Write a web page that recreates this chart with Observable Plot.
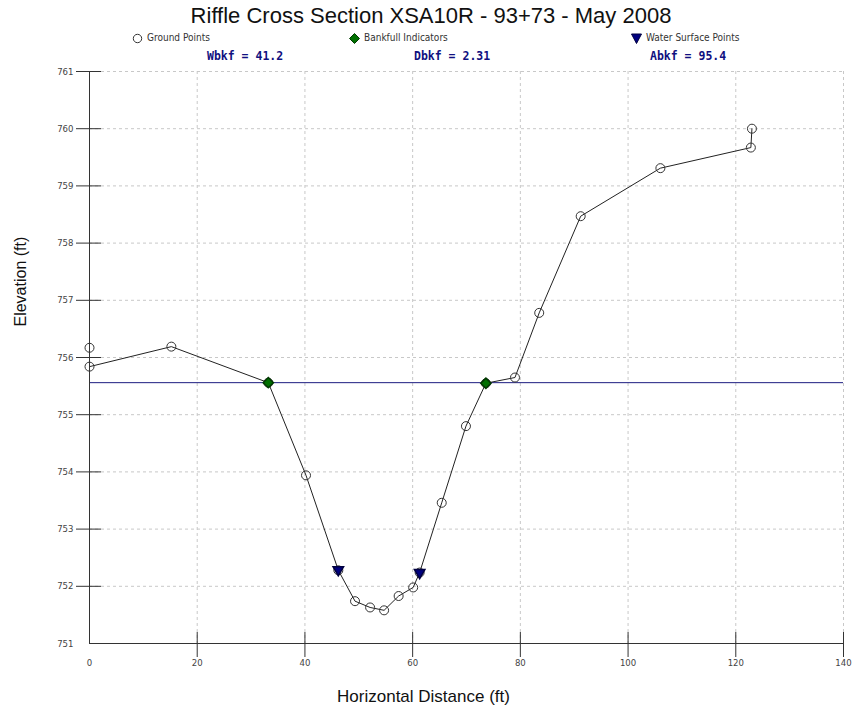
<!DOCTYPE html>
<html>
<head>
<meta charset="utf-8">
<script src="https://cdn.jsdelivr.net/npm/d3@7"></script>
<script src="https://cdn.jsdelivr.net/npm/@observablehq/plot@0.6"></script>
<style>
  body { margin: 0; background: #fff; }
  #wrap { position: relative; width: 857px; height: 713px; overflow: hidden; background: #fff; }
  .abs { position: absolute; white-space: nowrap; }
  #title { top: 3px; left: 0; width: 862px; text-align: center; font: 22px "Liberation Sans", Arial, sans-serif; color: #111; }
  .leg { font: 10px "Liberation Sans Narrow", "DejaVu Sans Condensed", "Liberation Sans", Arial, sans-serif; color: #333; top: 32px; line-height: 12px; display: flex; align-items: center; }
  .leg svg { margin-right: 4px; }
  .stat { top: 49px; font: bold 11.5px "DejaVu Sans Mono", "Liberation Mono", monospace; color: #101080; }
  #chart { position: absolute; top: 64px; left: 0; }
</style>
</head>
<body>
<div id="wrap">
  <div id="title" class="abs">Riffle Cross Section XSA10R - 93+73 - May 2008</div>
  <div class="abs leg" style="left:132px"><svg width="11" height="11"><circle cx="5.5" cy="5.5" r="4.2" fill="none" stroke="#333"/></svg>Ground Points</div>
  <div class="abs leg" style="left:349px"><svg width="11" height="11"><path d="M5.5,0.5L10.5,5.5L5.5,10.5L0.5,5.5Z" fill="#007000" stroke="#003a00"/></svg>Bankfull Indicators</div>
  <div class="abs leg" style="left:631px"><svg width="11" height="11"><path d="M0.5,1L10.5,1L5.5,10.5Z" fill="#000080" stroke="#000040"/></svg>Water Surface Points</div>
  <div class="abs stat" style="left:207px">Wbkf = 41.2</div>
  <div class="abs stat" style="left:414px">Dbkf = 2.31</div>
  <div class="abs stat" style="left:650px">Abkf = 95.4</div>
  <div id="chart"></div>
</div>
<script>
// Surveyed ground points across the riffle (station ft, elevation ft)
const groundStation = [0, 0, 15.2, 33.2, 40.2, 46.2, 49.3, 52.1, 54.7, 57.4, 60.1, 61.3, 65.4, 69.9, 73.6, 79.0, 83.5, 91.2, 106.0, 122.8, 123.0];
const groundElev = [756.17, 755.84, 756.19, 755.56, 753.94, 752.28, 751.74, 751.63, 751.58, 751.83, 751.98, 752.24, 753.46, 754.80, 755.55, 755.65, 756.78, 758.47, 759.31, 759.67, 760.00];

// Bankfull indicators and water surface shots
const bankfullStation = [33.2, 73.6];
const bankfullElevPts = [755.56, 755.55];
const waterStation = [46.2, 61.3];
const waterElev = [752.29, 752.24];

// Bankfull stage elevation
const bankfullElevation = 755.56;

// Axis ticks
const xTicks = [0, 20, 40, 60, 80, 100, 120, 140];
const yTicks = [751, 752, 753, 754, 755, 756, 757, 758, 759, 760, 761];

const ground = groundStation.map((x, i) => ({x, y: groundElev[i]}));
const profile = ground.slice(1); // first shot is a lone point, not part of the traced profile
const bankfull = bankfullStation.map((x, i) => ({x, y: bankfullElevPts[i]}));
const water = waterStation.map((x, i) => ({x, y: waterElev[i]}));

const tickFont = '"Liberation Sans Narrow", "DejaVu Sans Condensed", "Liberation Sans", Arial, sans-serif';
const labelFont = '"Liberation Sans", Arial, sans-serif';
const intFormat = d => String(d);

const chart = Plot.plot({
  width: 857,
  height: 649,
  marginTop: 7,
  marginBottom: 70,
  marginLeft: 89,
  marginRight: 14,
  x: {domain: [0, 140], axis: null},
  y: {domain: [751, 761], axis: null},
  style: {background: "white", color: "#333", fontFamily: tickFont, fontSize: "9.5px"},
  marks: [
    // dashed grid
    Plot.gridX(xTicks.slice(1), {stroke: "#c8c8c8", strokeOpacity: 1, strokeDasharray: "3,3"}),
    Plot.gridY(yTicks.slice(1), {stroke: "#c8c8c8", strokeOpacity: 1, strokeDasharray: "3,3"}),
    // bankfull stage
    Plot.ruleY([bankfullElevation], {stroke: "#1c1c80", strokeWidth: 1}),
    // ground profile
    Plot.line(profile, {x: "x", y: "y", stroke: "#222", strokeWidth: 1}),
    Plot.dot(ground, {x: "x", y: "y", r: 4.5, stroke: "#333", fill: "none", strokeWidth: 1}),
    Plot.dot(bankfull, {x: "x", y: "y", symbol: "diamond2", r: 4.6, fill: "#007000", stroke: "#003a00"}),
    Plot.dot(water, {x: "x", y: "y", symbol: "triangle", rotate: 180, r: 3.9, fill: "#000080", stroke: "#000040"}),
    // axis lines
    Plot.ruleX([0], {stroke: "#333"}),
    Plot.ruleY([751], {stroke: "#333"}),
    // tick marks crossing the axes
    Plot.axisY(yTicks.slice(1), {tickSize: 25, dx: 12, tickFormat: () => "", label: null, stroke: "#333"}),
    Plot.axisX(xTicks.slice(1), {tickSize: 25, dy: -11, tickFormat: () => "", label: null, stroke: "#333"}),
    // tick labels
    Plot.axisY(yTicks, {tickSize: 0, tickPadding: 16, tickFormat: intFormat, label: null, fill: "#444"}),
    Plot.axisX(xTicks, {tickSize: 0, tickPadding: 16, tickFormat: intFormat, label: null, fill: "#444"}),
    // axis titles
    Plot.text(["Elevation (ft)"], {frameAnchor: "left", rotate: -90, dx: -69, dy: -31, fontSize: 16, fontFamily: labelFont, fill: "#111"}),
    Plot.text(["Horizontal Distance (ft)"], {frameAnchor: "bottom", dx: -43, dy: 58, fontSize: 17, fontFamily: labelFont, fill: "#111"})
  ]
});

document.getElementById("chart").appendChild(chart);
</script>
</body>
</html>
